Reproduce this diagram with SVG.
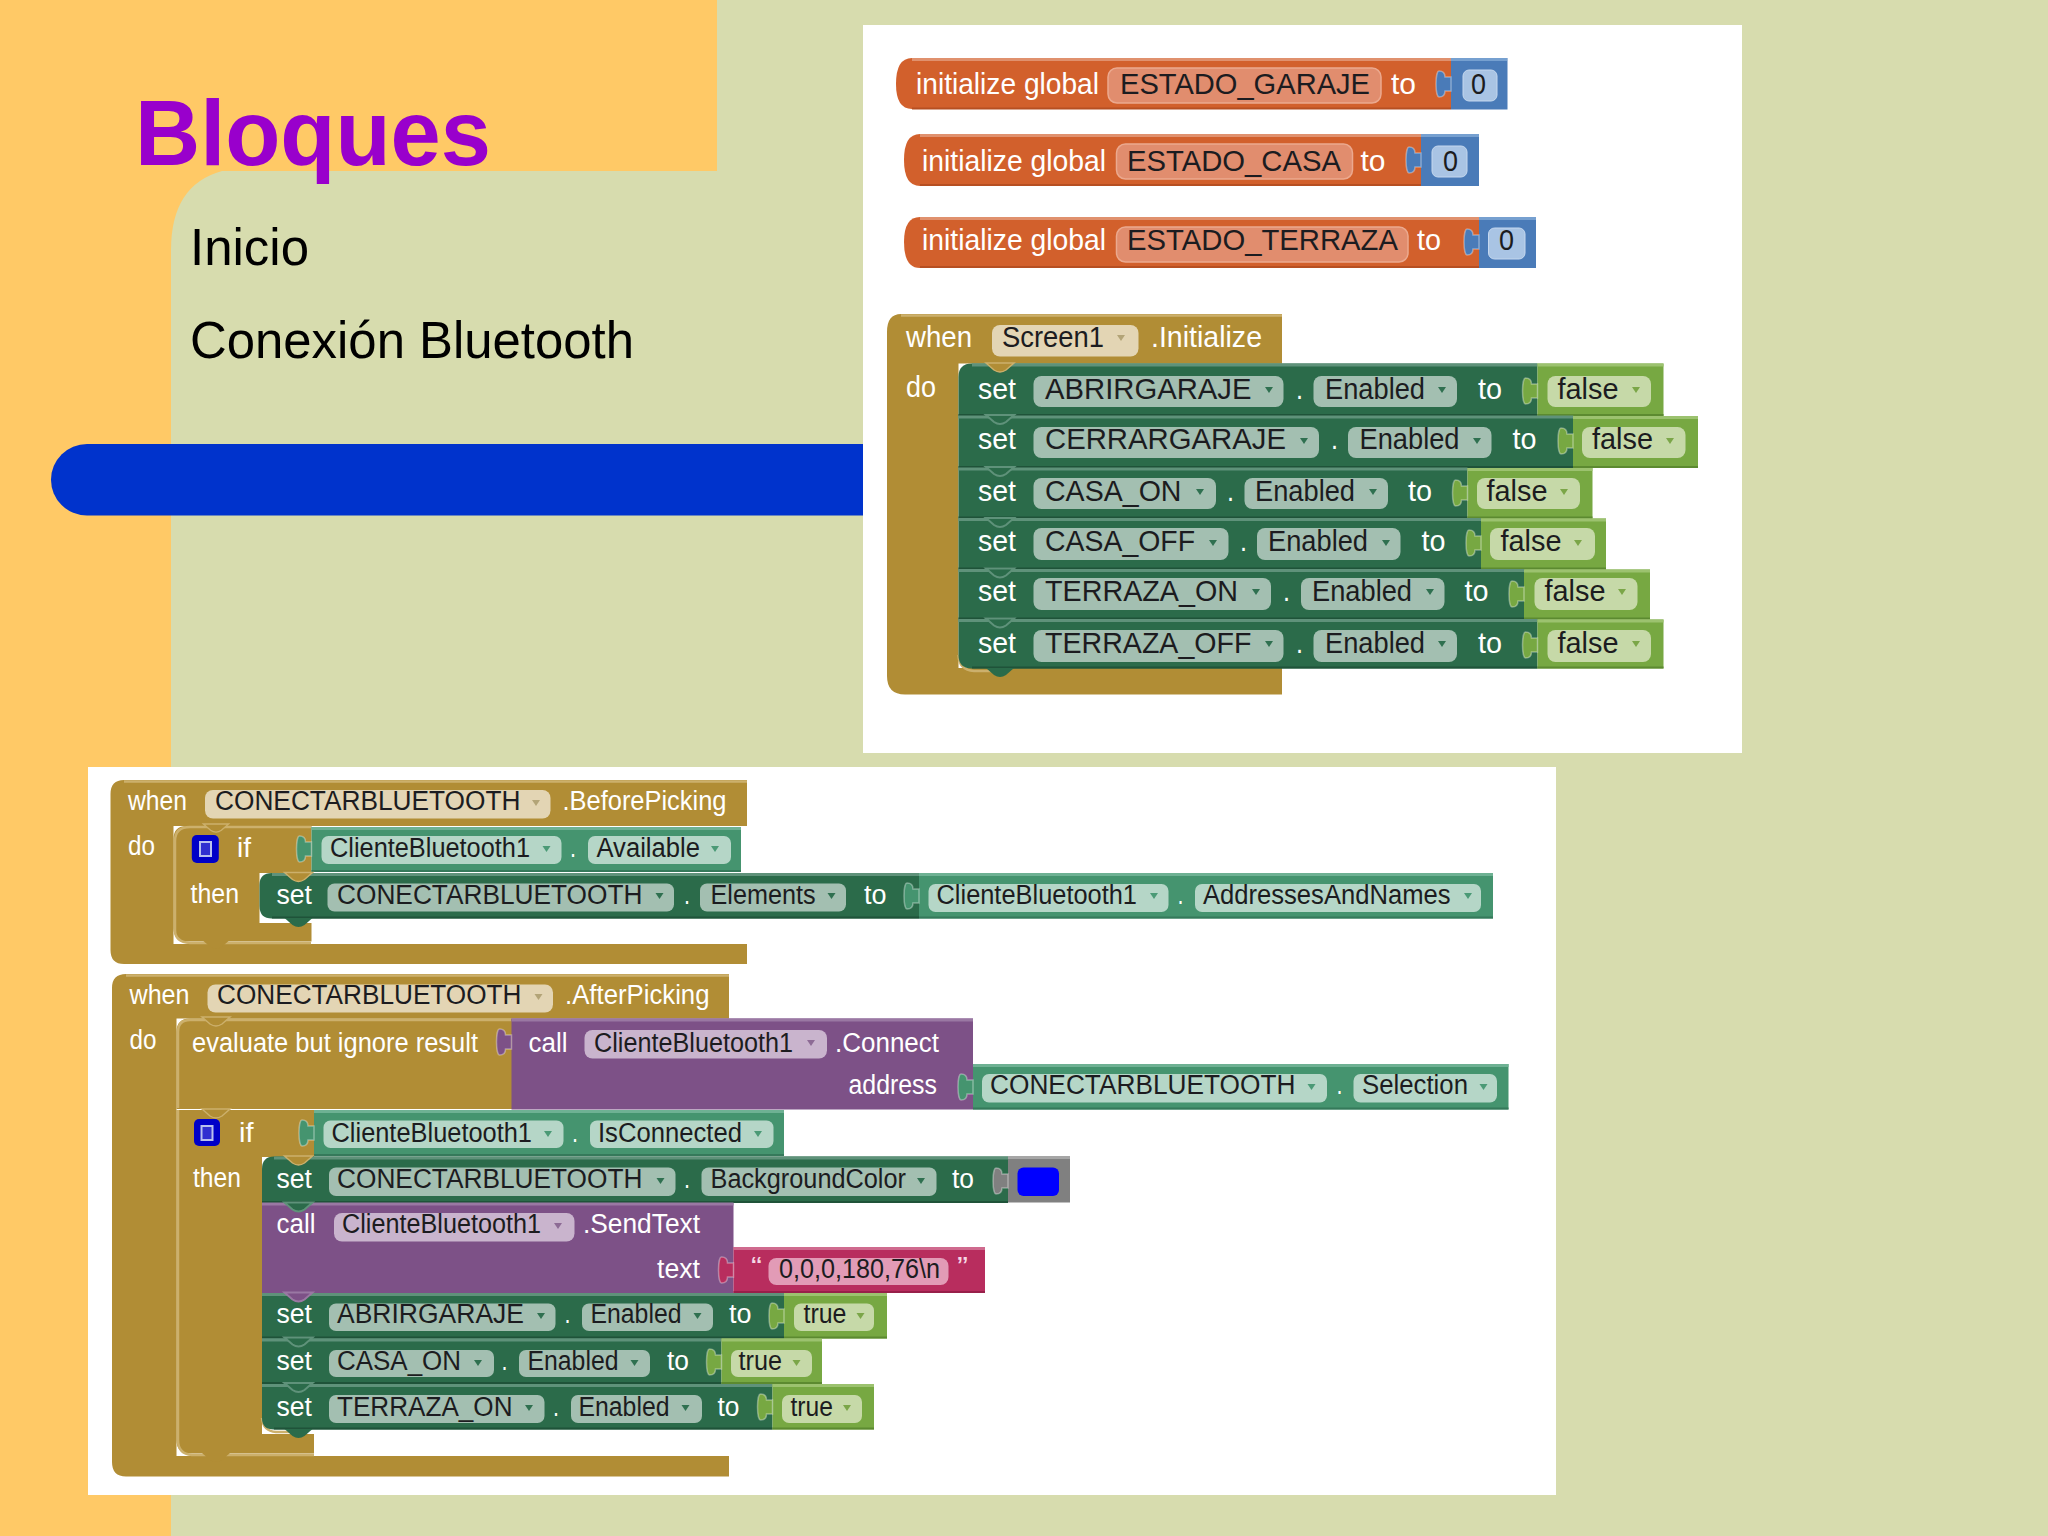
<svg xmlns="http://www.w3.org/2000/svg" xmlns:xlink="http://www.w3.org/1999/xlink" width="2048" height="1536" viewBox="0 0 2048 1536">
<style>
text{font-family:"Liberation Sans",Arial,sans-serif;white-space:pre}
.a{font-size:30px}.b{font-size:29px}.c{font-size:27px}
.w{fill:#fff}.k{fill:#1c1c20}
.ol{fill:#b18d35}.oll{stroke:#ccb06c;stroke-width:2.5;fill:none}
.dg{fill:#2b6b4a}.dgt{stroke:#5f927a;stroke-width:3}.dgb{stroke:#1f5339;stroke-width:2}
.gr{fill:#77a842}.grt{stroke:#9cc26f;stroke-width:3}.grb{stroke:#5c8a30;stroke-width:2}
.te{fill:#45946f}.tet{stroke:#6eb193;stroke-width:3}.teb{stroke:#35795a;stroke-width:2}
.or{fill:#d2602c}.ort{stroke:#e0916e;stroke-width:3}.orb{stroke:#b64f22;stroke-width:2}
.bl{fill:#4a7bb8}.blt{stroke:#76a0d0;stroke-width:3}
.pu{fill:#7d5187}.put{stroke:#9a78a3;stroke-width:3}
.pi{fill:#b82d5e}.pit{stroke:#cf6a8e;stroke-width:3}.pib{stroke:#98204a;stroke-width:2}
.gy{fill:#808080}.gyt{stroke:#a6a6a6;stroke-width:3}
.fo{fill:#e18d6e;stroke:#eba98f;stroke-width:1.5}.fb{fill:#a9c4e4;stroke:#c5d8ef;stroke-width:1}
.fy{fill:#e3d5b4}.fd{fill:#a3bfb1}.fg{fill:#c6d9a8}.ft{fill:#b5d6c7}.fp{fill:#c9b4cd}.fi{fill:#e29bb6}
.ay{fill:#b3a477}.ad{fill:#2f7050}.ag{fill:#7ba648}.at{fill:#4b9a76}.ap{fill:#8d6b95}
use[href="#tab"]{stroke:#fff;stroke-opacity:.35;stroke-width:1.5}
use.dg[href="#vt"]{stroke:#5f927a;stroke-width:2}
use.pu[href="#vt"]{stroke:#9a78a3;stroke-width:2}
use.ol[href="#vt"]{stroke:#ccb06c;stroke-width:1.5}
use.nb[href="#vt"]{stroke:none}
</style>
<defs>
<path id="tab" d="M0 -7 H-6 C-6 -12 -9 -13 -12 -13 C-16 -13 -16 13 -12 13 C-9 13 -6 12 -6 7 H0 Z"/>
<path id="vt" d="M-14 0 L-6 7 Q0 11 6 7 L14 0 Z"/>
<path id="ar" d="M-4 -3 H4 L0 3 Z"/>
</defs>

<g id="background">
<rect width="2048" height="1536" fill="#d7dcae"/>
<path d="M0 0 H717 V171 H222 Q171 185 171 250 V1536 H0 Z" fill="#ffc966"/>
<path d="M863 444 H87 A36 35.750 0 0 0 87 515.500 H863 Z" fill="#0033cc"/>
<rect x="863" y="25" width="879" height="728" fill="#fff"/>
<rect x="88" y="767" width="1468" height="728" fill="#fff"/>
</g>

<g id="title">
<text x="135" y="165" font-size="93" font-weight="700" fill="#9900cc" textLength="356" lengthAdjust="spacingAndGlyphs">Bloques</text>
<text x="190" y="265" font-size="52" fill="#000" textLength="119" lengthAdjust="spacingAndGlyphs">Inicio</text>
<text x="190" y="358" font-size="52" fill="#000" textLength="444" lengthAdjust="spacingAndGlyphs">Conexión Bluetooth</text>
</g>

<g id="init-garaje">
<path class="or" d="M912 58 H1451 V109 H912 Q896 109 896 84 Q896 58 912 58 Z"/>
<path class="ort" d="M912 59.500 H1451" fill="none"/><path class="orb" d="M912 108.500 H1451"/>
<rect class="bl" x="1451" y="58" width="56.500" height="51.500"/><path class="blt" d="M1451 59.500 H1507"/>
<use href="#tab" class="bl" transform="translate(1451,84)"/>
<text class="a w" x="916" y="94" textLength="183" lengthAdjust="spacingAndGlyphs">initialize global</text>
<rect class="fo" x="1108" y="68" width="273" height="35" rx="9"/>
<text class="a k" x="1120" y="94" textLength="250" lengthAdjust="spacingAndGlyphs">ESTADO_GARAJE</text>
<text class="a w" x="1391" y="94" textLength="25" lengthAdjust="spacingAndGlyphs">to</text>
<rect class="fb" x="1463" y="70" width="34" height="31" rx="6"/>
<text class="a k" x="1471" y="94" textLength="15" lengthAdjust="spacingAndGlyphs">0</text>
</g>

<g id="init-casa">
<path class="or" d="M920 134 H1421 V186 H920 Q904 186 904 160 Q904 134 920 134 Z"/>
<path class="ort" d="M920 135.500 H1421" fill="none"/><path class="orb" d="M920 185 H1421"/>
<rect class="bl" x="1421" y="134" width="58" height="52"/><path class="blt" d="M1421 135.500 H1479"/>
<use href="#tab" class="bl" transform="translate(1421,160)"/>
<text class="a w" x="922" y="171" textLength="184" lengthAdjust="spacingAndGlyphs">initialize global</text>
<rect class="fo" x="1116.500" y="144" width="236" height="35" rx="9"/>
<text class="a k" x="1127" y="171" textLength="214" lengthAdjust="spacingAndGlyphs">ESTADO_CASA</text>
<text class="a w" x="1360.500" y="171" textLength="25" lengthAdjust="spacingAndGlyphs">to</text>
<rect class="fb" x="1432" y="146" width="35" height="31" rx="6"/>
<text class="a k" x="1443" y="171" textLength="15" lengthAdjust="spacingAndGlyphs">0</text>
</g>

<g id="init-terraza">
<path class="or" d="M920 217 H1479 V268 H920 Q904 268 904 242 Q904 217 920 217 Z"/>
<path class="ort" d="M920 218.500 H1479" fill="none"/><path class="orb" d="M920 267 H1479"/>
<rect class="bl" x="1479" y="217" width="57" height="51"/><path class="blt" d="M1479 218.500 H1536"/>
<use href="#tab" class="bl" transform="translate(1479,242)"/>
<text class="a w" x="922" y="250" textLength="184" lengthAdjust="spacingAndGlyphs">initialize global</text>
<rect class="fo" x="1116.500" y="227" width="291.500" height="35" rx="9"/>
<text class="a k" x="1127" y="250" textLength="271" lengthAdjust="spacingAndGlyphs">ESTADO_TERRAZA</text>
<text class="a w" x="1417" y="250" textLength="24" lengthAdjust="spacingAndGlyphs">to</text>
<rect class="fb" x="1488.500" y="228" width="36.500" height="31" rx="6"/>
<text class="a k" x="1499" y="250" textLength="15" lengthAdjust="spacingAndGlyphs">0</text>
</g>

<g id="screen1-initialize">
<path class="ol" d="M901 314 H1282 V363.500 H958.500 V668 H1282 V694.500 H905 Q887 694.500 887 676 V332 Q887 314 901 314 Z"/>
<path class="oll" d="M901 315.500 H1282"/>
<text class="b w" x="906" y="347" textLength="66" lengthAdjust="spacingAndGlyphs">when</text>
<rect class="fy" x="992" y="325" width="146.500" height="31.500" rx="8"/>
<text class="b k" x="1002" y="347" textLength="102" lengthAdjust="spacingAndGlyphs">Screen1</text>
<use href="#ar" class="ay" transform="translate(1121,338)"/>
<text class="b w" x="1151" y="347" textLength="111" lengthAdjust="spacingAndGlyphs">.Initialize</text>
<text class="b w" x="906" y="397" textLength="30" lengthAdjust="spacingAndGlyphs">do</text>
</g>

<g id="set-abrirgaraje">
<path class="dg" d="M972 363.500 H1537.500 V416 H958.500 V377 Q958.500 363.500 972 363.500 Z"/>
<path class="dgt" d="M972 365 H1537.500"/><path class="dgb" d="M958.500 415 H1537.500"/>
<use href="#vt" class="ol" transform="translate(1000,363)"/>
<rect class="gr" x="1537.500" y="363.500" width="126" height="52.500"/><path class="grt" d="M1537.500 365 H1663.500"/><path class="grb" d="M1537.500 415 H1663.500"/>
<use href="#tab" class="gr" transform="translate(1537.500,391)"/>
<text class="b w" x="978" y="399" textLength="38" lengthAdjust="spacingAndGlyphs">set</text>
<rect class="fd" x="1033.500" y="376" width="250" height="31" rx="8"/>
<text class="b k" x="1045" y="399" textLength="206.500" lengthAdjust="spacingAndGlyphs">ABRIRGARAJE</text>
<use href="#ar" class="ad" transform="translate(1269,390)"/>
<text class="b w" x="1296" y="399" textLength="7" lengthAdjust="spacingAndGlyphs">.</text>
<rect class="fd" x="1313.500" y="376" width="143.500" height="31" rx="8"/>
<text class="b k" x="1325" y="399" textLength="100" lengthAdjust="spacingAndGlyphs">Enabled</text>
<use href="#ar" class="ad" transform="translate(1442,390)"/>
<text class="b w" x="1478" y="399" textLength="24" lengthAdjust="spacingAndGlyphs">to</text>
<rect class="fg" x="1547.500" y="376" width="103.500" height="31" rx="8"/>
<text class="b k" x="1557.500" y="399" textLength="61" lengthAdjust="spacingAndGlyphs">false</text>
<use href="#ar" class="ag" transform="translate(1636,390)"/>
</g>

<g id="set-cerrargaraje">
<rect class="dg" x="958.500" y="416" width="615" height="52"/>
<path class="dgt" d="M958.500 417 H1573.500"/><path class="dgb" d="M958.500 467 H1573.500"/>
<use href="#vt" class="dg" transform="translate(1000,415)"/>
<rect class="gr" x="1573" y="416" width="125" height="52"/><path class="grt" d="M1573 417.500 H1698"/><path class="grb" d="M1573 467 H1698"/>
<use href="#tab" class="gr" transform="translate(1573,441)"/>
<text class="b w" x="978" y="449" textLength="38" lengthAdjust="spacingAndGlyphs">set</text>
<rect class="fd" x="1033.500" y="427" width="285.500" height="31" rx="8"/>
<text class="b k" x="1045" y="449" textLength="241" lengthAdjust="spacingAndGlyphs">CERRARGARAJE</text>
<use href="#ar" class="ad" transform="translate(1304,441)"/>
<text class="b w" x="1331" y="449" textLength="7" lengthAdjust="spacingAndGlyphs">.</text>
<rect class="fd" x="1348" y="427" width="143.500" height="31" rx="8"/>
<text class="b k" x="1359.500" y="449" textLength="100" lengthAdjust="spacingAndGlyphs">Enabled</text>
<use href="#ar" class="ad" transform="translate(1477,441)"/>
<text class="b w" x="1512.500" y="449" textLength="24" lengthAdjust="spacingAndGlyphs">to</text>
<rect class="fg" x="1582" y="427" width="103.500" height="31" rx="8"/>
<text class="b k" x="1592" y="449" textLength="61" lengthAdjust="spacingAndGlyphs">false</text>
<use href="#ar" class="ag" transform="translate(1670,441)"/>
</g>

<g id="set-casa-on">
<rect class="dg" x="958.500" y="468" width="509" height="50.500"/>
<path class="dgt" d="M958.500 469 H1467.500"/><path class="dgb" d="M958.500 517.500 H1467.500"/>
<use href="#vt" class="dg" transform="translate(1000,467)"/>
<rect class="gr" x="1467.500" y="468" width="125" height="50.500"/><path class="grt" d="M1467.500 469.500 H1592.500"/><path class="grb" d="M1467.500 517.500 H1592.500"/>
<use href="#tab" class="gr" transform="translate(1467.500,493)"/>
<text class="b w" x="978" y="501" textLength="38" lengthAdjust="spacingAndGlyphs">set</text>
<rect class="fd" x="1033.500" y="478" width="182.500" height="31" rx="8"/>
<text class="b k" x="1045" y="501" textLength="136.500" lengthAdjust="spacingAndGlyphs">CASA_ON</text>
<use href="#ar" class="ad" transform="translate(1200,492)"/>
<text class="b w" x="1227" y="501" textLength="7" lengthAdjust="spacingAndGlyphs">.</text>
<rect class="fd" x="1244.500" y="478" width="143.500" height="31" rx="8"/>
<text class="b k" x="1255" y="501" textLength="100" lengthAdjust="spacingAndGlyphs">Enabled</text>
<use href="#ar" class="ad" transform="translate(1373,492)"/>
<text class="b w" x="1408" y="501" textLength="24" lengthAdjust="spacingAndGlyphs">to</text>
<rect class="fg" x="1477" y="478" width="103" height="31" rx="8"/>
<text class="b k" x="1486.500" y="501" textLength="61" lengthAdjust="spacingAndGlyphs">false</text>
<use href="#ar" class="ag" transform="translate(1564,492)"/>
</g>

<g id="set-casa-off">
<rect class="dg" x="958.500" y="518.500" width="522.500" height="51"/>
<path class="dgt" d="M958.500 519.500 H1481"/><path class="dgb" d="M958.500 568.500 H1481"/>
<use href="#vt" class="dg" transform="translate(1000,518)"/>
<rect class="gr" x="1481" y="518.500" width="125" height="51"/><path class="grt" d="M1481 520 H1606"/><path class="grb" d="M1481 568.500 H1606"/>
<use href="#tab" class="gr" transform="translate(1481,543)"/>
<text class="b w" x="978" y="551" textLength="38" lengthAdjust="spacingAndGlyphs">set</text>
<rect class="fd" x="1033.500" y="528" width="195" height="32" rx="8"/>
<text class="b k" x="1045" y="551" textLength="150" lengthAdjust="spacingAndGlyphs">CASA_OFF</text>
<use href="#ar" class="ad" transform="translate(1213,543)"/>
<text class="b w" x="1240" y="551" textLength="7" lengthAdjust="spacingAndGlyphs">.</text>
<rect class="fd" x="1257" y="528" width="143.500" height="32" rx="8"/>
<text class="b k" x="1268" y="551" textLength="100" lengthAdjust="spacingAndGlyphs">Enabled</text>
<use href="#ar" class="ad" transform="translate(1386,543)"/>
<text class="b w" x="1421.500" y="551" textLength="24" lengthAdjust="spacingAndGlyphs">to</text>
<rect class="fg" x="1490" y="528" width="105" height="32" rx="8"/>
<text class="b k" x="1500.500" y="551" textLength="61" lengthAdjust="spacingAndGlyphs">false</text>
<use href="#ar" class="ag" transform="translate(1578,543)"/>
</g>

<g id="set-terraza-on">
<rect class="dg" x="958.500" y="569.500" width="566" height="50"/>
<path class="dgt" d="M958.500 570.500 H1524.500"/><path class="dgb" d="M958.500 618.500 H1524.500"/>
<use href="#vt" class="dg" transform="translate(1000,568.500)"/>
<rect class="gr" x="1524" y="569.500" width="126" height="50"/><path class="grt" d="M1524 571 H1650"/><path class="grb" d="M1524 618.500 H1650"/>
<use href="#tab" class="gr" transform="translate(1524,594)"/>
<text class="b w" x="978" y="601" textLength="38" lengthAdjust="spacingAndGlyphs">set</text>
<rect class="fd" x="1033.500" y="578" width="237.500" height="32" rx="8"/>
<text class="b k" x="1045" y="601" textLength="193" lengthAdjust="spacingAndGlyphs">TERRAZA_ON</text>
<use href="#ar" class="ad" transform="translate(1256,592)"/>
<text class="b w" x="1283" y="601" textLength="7" lengthAdjust="spacingAndGlyphs">.</text>
<rect class="fd" x="1301" y="578" width="143.500" height="32" rx="8"/>
<text class="b k" x="1312" y="601" textLength="100" lengthAdjust="spacingAndGlyphs">Enabled</text>
<use href="#ar" class="ad" transform="translate(1430,592)"/>
<text class="b w" x="1464.500" y="601" textLength="24" lengthAdjust="spacingAndGlyphs">to</text>
<rect class="fg" x="1534.500" y="578" width="103" height="32" rx="8"/>
<text class="b k" x="1544.500" y="601" textLength="61" lengthAdjust="spacingAndGlyphs">false</text>
<use href="#ar" class="ag" transform="translate(1622,592)"/>
</g>

<g id="set-terraza-off">
<path class="oll" d="M958.500 655 Q959 670 974 671 H1000"/>
<path class="dg" d="M958.500 619.500 H1537.500 V668.500 H972 Q958.500 668.500 958.500 655 Z"/>
<path class="dgt" d="M958.500 620.500 H1537.500"/><path class="dgb" d="M972 667.500 H1537.500"/>
<use href="#vt" class="dg" transform="translate(1000,618.500)"/>
<use href="#vt" class="dg nb" transform="translate(1000,668)"/>
<rect class="gr" x="1537.500" y="619.500" width="126" height="49"/><path class="grt" d="M1537.500 621 H1663.500"/><path class="grb" d="M1537.500 667.500 H1663.500"/>
<use href="#tab" class="gr" transform="translate(1537.500,645)"/>
<text class="b w" x="978" y="653" textLength="38" lengthAdjust="spacingAndGlyphs">set</text>
<rect class="fd" x="1033.500" y="630" width="250" height="32" rx="8"/>
<text class="b k" x="1045" y="653" textLength="206.500" lengthAdjust="spacingAndGlyphs">TERRAZA_OFF</text>
<use href="#ar" class="ad" transform="translate(1269,644)"/>
<text class="b w" x="1296" y="653" textLength="7" lengthAdjust="spacingAndGlyphs">.</text>
<rect class="fd" x="1313.500" y="630" width="143.500" height="32" rx="8"/>
<text class="b k" x="1325" y="653" textLength="100" lengthAdjust="spacingAndGlyphs">Enabled</text>
<use href="#ar" class="ad" transform="translate(1442,644)"/>
<text class="b w" x="1478" y="653" textLength="24" lengthAdjust="spacingAndGlyphs">to</text>
<rect class="fg" x="1547.500" y="630" width="103.500" height="32" rx="8"/>
<text class="b k" x="1557.500" y="653" textLength="61" lengthAdjust="spacingAndGlyphs">false</text>
<use href="#ar" class="ag" transform="translate(1636,644)"/>
</g>

<g id="before-picking">
<path class="ol" d="M124 780 H747 V826 H173.500 V944 H747 V964 H124 Q110.500 964 110.500 950 V794 Q110.500 780 124 780 Z"/>
<path class="oll" d="M124 781.500 H747"/>
<text class="c w" x="128" y="810" textLength="59" lengthAdjust="spacingAndGlyphs">when</text>
<rect class="fy" x="205" y="790" width="345.500" height="28.500" rx="8"/>
<text class="c k" x="215" y="810" textLength="305.500" lengthAdjust="spacingAndGlyphs">CONECTARBLUETOOTH</text>
<use href="#ar" class="ay" transform="translate(536,803)"/>
<text class="c w" x="562.500" y="810" textLength="164" lengthAdjust="spacingAndGlyphs">.BeforePicking</text>
<text class="c w" x="128" y="855" textLength="27" lengthAdjust="spacingAndGlyphs">do</text>
<path class="ol" d="M187 826 H311.500 V873 H259.500 V923 H311.500 V941.500 H187 Q173.500 941.500 173.500 928 V839 Q173.500 826 187 826 Z"/>
<path class="oll" d="M311 827 H190 Q175 827 175 841 V930 Q175 942 190 943 H311"/>
<use href="#vt" class="ol nb" transform="translate(216,941) scale(.9)"/>
<use href="#vt" class="ol" transform="translate(216,824) scale(.9)"/>
<rect x="191.800" y="835" width="27" height="28" rx="5" fill="#0000c8"/>
<rect x="200" y="842" width="11" height="14" fill="#3030d0" stroke="#b8c0ee" stroke-width="2"/>
<text class="c w" x="237" y="857" textLength="14" lengthAdjust="spacingAndGlyphs">if</text>
<text class="c w" x="190.500" y="903" textLength="48.500" lengthAdjust="spacingAndGlyphs">then</text>
</g>

<g id="available">
<rect class="te" x="311.500" y="827" width="429.500" height="45"/><path class="tet" d="M311.500 828.500 H741"/><path class="teb" d="M311.500 871 H741"/>
<use href="#tab" class="te" transform="translate(311.500,849)"/>
<rect class="ft" x="321.500" y="836" width="240" height="28" rx="7"/>
<text class="c k" x="330" y="857" textLength="200" lengthAdjust="spacingAndGlyphs">ClienteBluetooth1</text>
<use href="#ar" class="at" transform="translate(546.500,849)"/>
<text class="c w" x="570" y="857" textLength="6" lengthAdjust="spacingAndGlyphs">.</text>
<rect class="ft" x="588" y="836" width="143" height="28" rx="7"/>
<text class="c k" x="596.500" y="857" textLength="103.500" lengthAdjust="spacingAndGlyphs">Available</text>
<use href="#ar" class="at" transform="translate(715,849)"/>
</g>

<g id="set-elements">
<path class="dg" d="M272 873 H919 V918.500 H272 Q259.500 918.500 259.500 906 V885 Q259.500 873 272 873 Z"/>
<path class="dgt" d="M272 874.500 H919"/><path class="dgb" d="M272 917.500 H919"/>
<use href="#vt" class="ol" transform="translate(298.500,872.500)"/>
<use href="#vt" class="dg nb" transform="translate(298.500,918)"/>
<text class="c w" x="276.500" y="904" textLength="35.500" lengthAdjust="spacingAndGlyphs">set</text>
<rect class="fd" x="327.500" y="883.500" width="346.500" height="28" rx="7"/>
<text class="c k" x="337" y="904" textLength="305.500" lengthAdjust="spacingAndGlyphs">CONECTARBLUETOOTH</text>
<use href="#ar" class="ad" transform="translate(659.500,896)"/>
<text class="c w" x="684" y="904" textLength="6" lengthAdjust="spacingAndGlyphs">.</text>
<rect class="fd" x="700" y="883.500" width="146" height="28" rx="7"/>
<text class="c k" x="710.500" y="904" textLength="105" lengthAdjust="spacingAndGlyphs">Elements</text>
<use href="#ar" class="ad" transform="translate(831.500,896)"/>
<text class="c w" x="864" y="904" textLength="22.500" lengthAdjust="spacingAndGlyphs">to</text>
</g>

<g id="addresses-and-names">
<rect class="te" x="919" y="873" width="574" height="45.500"/><path class="tet" d="M919 874.500 H1493"/><path class="teb" d="M919 917.500 H1493"/>
<use href="#tab" class="te" transform="translate(919,896)"/>
<rect class="ft" x="928.500" y="884" width="240" height="28" rx="7"/>
<text class="c k" x="936.500" y="904" textLength="200.500" lengthAdjust="spacingAndGlyphs">ClienteBluetooth1</text>
<use href="#ar" class="at" transform="translate(1154,896)"/>
<text class="c w" x="1177.500" y="904" textLength="6" lengthAdjust="spacingAndGlyphs">.</text>
<rect class="ft" x="1195" y="884" width="286" height="28" rx="7"/>
<text class="c k" x="1203" y="904" textLength="247.500" lengthAdjust="spacingAndGlyphs">AddressesAndNames</text>
<use href="#ar" class="at" transform="translate(1468,896)"/>
</g>

<g id="after-picking">
<path class="ol" d="M126 974 H729 V1018.500 H176.500 V1456 H729 V1476.500 H126 Q112 1476.500 112 1462 V988 Q112 974 126 974 Z"/>
<path class="oll" d="M126 975.500 H729"/>
<text class="c w" x="129.500" y="1004" textLength="60" lengthAdjust="spacingAndGlyphs">when</text>
<rect class="fy" x="207.500" y="984.500" width="345.500" height="28" rx="8"/>
<text class="c k" x="217" y="1004" textLength="304.500" lengthAdjust="spacingAndGlyphs">CONECTARBLUETOOTH</text>
<use href="#ar" class="ay" transform="translate(538.500,997)"/>
<text class="c w" x="565" y="1004" textLength="144.500" lengthAdjust="spacingAndGlyphs">.AfterPicking</text>
<text class="c w" x="129.500" y="1049" textLength="27" lengthAdjust="spacingAndGlyphs">do</text>
</g>

<g id="evaluate">
<path class="ol" d="M190 1018.500 H512 V1109 H176.500 V1032 Q176.500 1018.500 190 1018.500 Z"/>
<path class="oll" d="M511 1020 H190 Q178 1020 178 1032 V1108"/>
<use href="#vt" class="ol" transform="translate(216,1017)"/>
<text class="c w" x="192" y="1052" textLength="286" lengthAdjust="spacingAndGlyphs">evaluate but ignore result</text>
</g>

<g id="call-connect">
<rect class="pu" x="511.500" y="1018.500" width="461.500" height="91"/><path class="put" d="M511.500 1020 H973"/>
<use href="#tab" class="pu" transform="translate(511.500,1042)"/>
<text class="c w" x="528.500" y="1052" textLength="39" lengthAdjust="spacingAndGlyphs">call</text>
<rect class="fp" x="584.500" y="1030" width="242.500" height="28.500" rx="8"/>
<text class="c k" x="594" y="1052" textLength="199" lengthAdjust="spacingAndGlyphs">ClienteBluetooth1</text>
<use href="#ar" class="ap" transform="translate(811,1043)"/>
<text class="c w" x="835" y="1052" textLength="104" lengthAdjust="spacingAndGlyphs">.Connect</text>
<text class="c w" x="848.500" y="1094" textLength="88.500" lengthAdjust="spacingAndGlyphs">address</text>
</g>

<g id="selection">
<rect class="te" x="973" y="1064" width="535.500" height="45.500"/><path class="tet" d="M973 1065.500 H1508.500"/><path class="teb" d="M973 1108.500 H1508.500"/>
<use href="#tab" class="te" transform="translate(973,1087)"/>
<rect class="ft" x="982" y="1074" width="345" height="28.500" rx="7"/>
<text class="c k" x="990" y="1094" textLength="305.500" lengthAdjust="spacingAndGlyphs">CONECTARBLUETOOTH</text>
<use href="#ar" class="at" transform="translate(1311.500,1087)"/>
<text class="c w" x="1336.500" y="1094" textLength="6" lengthAdjust="spacingAndGlyphs">.</text>
<rect class="ft" x="1353.500" y="1074" width="143.500" height="28.500" rx="7"/>
<text class="c k" x="1362" y="1094" textLength="106" lengthAdjust="spacingAndGlyphs">Selection</text>
<use href="#ar" class="at" transform="translate(1483.500,1087)"/>
</g>

<g id="if-connected">
<path class="ol" d="M176.500 1110 H314 V1157 H262 V1434 H314 V1453.500 H190 Q176.500 1453.500 176.500 1440 Z"/>
<path class="oll" d="M178 1110 V1440 Q178 1454 192 1455 H314"/>
<use href="#vt" class="ol nb" transform="translate(216,1453)"/>
<use href="#vt" class="ol" transform="translate(216,1109)"/>
<rect x="194" y="1119" width="26" height="27" rx="5" fill="#0000c8"/>
<rect x="201.500" y="1126" width="11" height="14" fill="#3030d0" stroke="#b8c0ee" stroke-width="2"/>
<text class="c w" x="239" y="1142" textLength="14.500" lengthAdjust="spacingAndGlyphs">if</text>
<text class="c w" x="193" y="1187" textLength="48" lengthAdjust="spacingAndGlyphs">then</text>
</g>

<g id="is-connected">
<rect class="te" x="314" y="1110" width="470" height="46"/><path class="tet" d="M314 1111.500 H784"/><path class="teb" d="M314 1155 H784"/>
<use href="#tab" class="te" transform="translate(314,1133)"/>
<rect class="ft" x="323.500" y="1120.500" width="240" height="27.500" rx="7"/>
<text class="c k" x="331.500" y="1142" textLength="200.500" lengthAdjust="spacingAndGlyphs">ClienteBluetooth1</text>
<use href="#ar" class="at" transform="translate(548,1134)"/>
<text class="c w" x="572" y="1142" textLength="6" lengthAdjust="spacingAndGlyphs">.</text>
<rect class="ft" x="590" y="1120.500" width="183.500" height="27.500" rx="7"/>
<text class="c k" x="598" y="1142" textLength="144" lengthAdjust="spacingAndGlyphs">IsConnected</text>
<use href="#ar" class="at" transform="translate(758,1134)"/>
</g>

<g id="set-backgroundcolor">
<path class="dg" d="M274 1156.500 H1008 V1203 H262 V1169 Q262 1156.500 274 1156.500 Z"/>
<path class="dgt" d="M274 1158 H1008"/><path class="dgb" d="M262 1202 H1008"/>
<use href="#vt" class="ol" transform="translate(298.500,1156)"/>
<text class="c w" x="276.500" y="1188" textLength="35.500" lengthAdjust="spacingAndGlyphs">set</text>
<rect class="fd" x="329" y="1167.500" width="346.500" height="28.500" rx="7"/>
<text class="c k" x="337" y="1188" textLength="305.500" lengthAdjust="spacingAndGlyphs">CONECTARBLUETOOTH</text>
<use href="#ar" class="ad" transform="translate(660.500,1181)"/>
<text class="c w" x="684" y="1188" textLength="6" lengthAdjust="spacingAndGlyphs">.</text>
<rect class="fd" x="701.500" y="1167.500" width="235" height="28.500" rx="7"/>
<text class="c k" x="710.500" y="1188" textLength="195.500" lengthAdjust="spacingAndGlyphs">BackgroundColor</text>
<use href="#ar" class="ad" transform="translate(921,1181)"/>
<text class="c w" x="952" y="1188" textLength="22" lengthAdjust="spacingAndGlyphs">to</text>
<rect class="gy" x="1008" y="1156" width="62" height="46.500"/><path class="gyt" d="M1008 1157.500 H1070"/>
<use href="#tab" class="gy" transform="translate(1008,1181)"/>
<rect x="1017.500" y="1167.500" width="41.500" height="28.500" rx="6" fill="#0000ff"/>
</g>

<g id="call-sendtext">
<rect class="pu" x="262" y="1203" width="471.500" height="90"/><path class="put" d="M262 1204 H733.500"/>
<use href="#vt" class="dg" transform="translate(298.500,1202.500)"/>
<text class="c w" x="276.500" y="1233" textLength="39" lengthAdjust="spacingAndGlyphs">call</text>
<rect class="fp" x="334" y="1213" width="240.500" height="28.500" rx="8"/>
<text class="c k" x="342" y="1233" textLength="199" lengthAdjust="spacingAndGlyphs">ClienteBluetooth1</text>
<use href="#ar" class="ap" transform="translate(558,1226)"/>
<text class="c w" x="583" y="1233" textLength="117" lengthAdjust="spacingAndGlyphs">.SendText</text>
<text class="c w" x="657" y="1278" textLength="43" lengthAdjust="spacingAndGlyphs">text</text>
</g>

<g id="text-value">
<rect class="pi" x="733.500" y="1247" width="251.500" height="46"/><path class="pit" d="M733.500 1248.500 H985"/><path class="pib" d="M733.500 1292 H985"/>
<use href="#tab" class="pi" transform="translate(733.500,1270)"/>
<text class="c" x="751" y="1276" fill="#f4d8e4" textLength="11" lengthAdjust="spacingAndGlyphs">“</text>
<rect class="fi" x="768.500" y="1258" width="180" height="27" rx="8"/>
<text class="c k" x="779" y="1278" textLength="161" lengthAdjust="spacingAndGlyphs">0,0,0,180,76\n</text>
<text class="c" x="957" y="1276" fill="#f4d8e4" textLength="11" lengthAdjust="spacingAndGlyphs">”</text>
</g>

<g id="set-abrirgaraje-true">
<rect class="dg" x="262" y="1293" width="522" height="45.500"/><path class="dgt" d="M262 1294.500 H784"/><path class="dgb" d="M262 1337.500 H784"/>
<use href="#vt" class="pu" transform="translate(298.500,1292.500)"/>
<rect class="gr" x="784" y="1293" width="103" height="45.500"/><path class="grt" d="M784 1294.500 H887"/><path class="grb" d="M784 1337.500 H887"/>
<use href="#tab" class="gr" transform="translate(784,1316)"/>
<text class="c w" x="276.500" y="1323" textLength="35.500" lengthAdjust="spacingAndGlyphs">set</text>
<rect class="fd" x="329" y="1303.500" width="226.500" height="27.500" rx="7"/>
<text class="c k" x="337" y="1323" textLength="187" lengthAdjust="spacingAndGlyphs">ABRIRGARAJE</text>
<use href="#ar" class="ad" transform="translate(541,1316)"/>
<text class="c w" x="564.500" y="1323" textLength="6" lengthAdjust="spacingAndGlyphs">.</text>
<rect class="fd" x="582" y="1303.500" width="131" height="27.500" rx="7"/>
<text class="c k" x="590.500" y="1323" textLength="91" lengthAdjust="spacingAndGlyphs">Enabled</text>
<use href="#ar" class="ad" transform="translate(697.500,1316)"/>
<text class="c w" x="729" y="1323" textLength="22.500" lengthAdjust="spacingAndGlyphs">to</text>
<rect class="fg" x="794" y="1303.500" width="80" height="27.500" rx="7"/>
<text class="c k" x="803.500" y="1323" textLength="43" lengthAdjust="spacingAndGlyphs">true</text>
<use href="#ar" class="ag" transform="translate(860.500,1316)"/>
</g>

<g id="set-casa-on-true">
<rect class="dg" x="262" y="1338.500" width="459.500" height="45.500"/><path class="dgt" d="M262 1340 H721.500"/><path class="dgb" d="M262 1383 H721.500"/>
<use href="#vt" class="dg" transform="translate(298.500,1337.500)"/>
<rect class="gr" x="721.500" y="1338.500" width="100.500" height="45.500"/><path class="grt" d="M721.500 1340 H822"/><path class="grb" d="M721.500 1383 H822"/>
<use href="#tab" class="gr" transform="translate(721.500,1362)"/>
<text class="c w" x="276.500" y="1370" textLength="35.500" lengthAdjust="spacingAndGlyphs">set</text>
<rect class="fd" x="329" y="1350" width="165" height="27" rx="7"/>
<text class="c k" x="337" y="1370" textLength="124" lengthAdjust="spacingAndGlyphs">CASA_ON</text>
<use href="#ar" class="ad" transform="translate(478,1363)"/>
<text class="c w" x="501.500" y="1370" textLength="6" lengthAdjust="spacingAndGlyphs">.</text>
<rect class="fd" x="519" y="1350" width="131" height="27" rx="7"/>
<text class="c k" x="527.500" y="1370" textLength="91" lengthAdjust="spacingAndGlyphs">Enabled</text>
<use href="#ar" class="ad" transform="translate(634.500,1363)"/>
<text class="c w" x="667" y="1370" textLength="22" lengthAdjust="spacingAndGlyphs">to</text>
<rect class="fg" x="731" y="1350" width="81" height="27" rx="7"/>
<text class="c k" x="738.500" y="1370" textLength="43.500" lengthAdjust="spacingAndGlyphs">true</text>
<use href="#ar" class="ag" transform="translate(796.500,1363)"/>
</g>

<g id="set-terraza-on-true">
<path class="oll" d="M262 1418 Q263 1431 276 1432 H300"/>
<path class="dg" d="M262 1384 H772.500 V1429.500 H274 Q262 1429.500 262 1418 Z"/>
<path class="dgt" d="M262 1385.500 H772.500"/><path class="dgb" d="M274 1428.500 H772.500"/>
<use href="#vt" class="dg" transform="translate(298.500,1383)"/>
<use href="#vt" class="dg nb" transform="translate(298.500,1429)"/>
<rect class="gr" x="772.500" y="1384" width="101.500" height="45.500"/><path class="grt" d="M772.500 1385.500 H874"/><path class="grb" d="M772.500 1428.500 H874"/>
<use href="#tab" class="gr" transform="translate(772.500,1407)"/>
<text class="c w" x="276.500" y="1416" textLength="35.500" lengthAdjust="spacingAndGlyphs">set</text>
<rect class="fd" x="329" y="1395" width="215.500" height="28" rx="7"/>
<text class="c k" x="337" y="1416" textLength="175.500" lengthAdjust="spacingAndGlyphs">TERRAZA_ON</text>
<use href="#ar" class="ad" transform="translate(529,1408)"/>
<text class="c w" x="553" y="1416" textLength="6" lengthAdjust="spacingAndGlyphs">.</text>
<rect class="fd" x="571" y="1395" width="131" height="28" rx="7"/>
<text class="c k" x="578.500" y="1416" textLength="91" lengthAdjust="spacingAndGlyphs">Enabled</text>
<use href="#ar" class="ad" transform="translate(685.500,1408)"/>
<text class="c w" x="717.500" y="1416" textLength="22" lengthAdjust="spacingAndGlyphs">to</text>
<rect class="fg" x="782" y="1395" width="80" height="28" rx="7"/>
<text class="c k" x="790.500" y="1416" textLength="42.500" lengthAdjust="spacingAndGlyphs">true</text>
<use href="#ar" class="ag" transform="translate(847,1408)"/>
</g>
</svg>
